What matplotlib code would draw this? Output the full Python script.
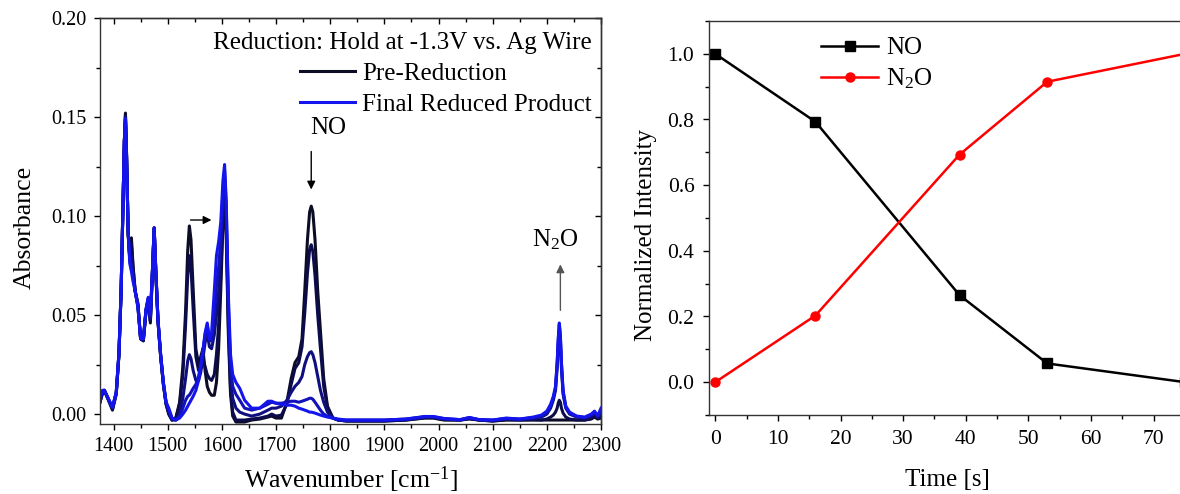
import matplotlib
matplotlib.use("Agg")
import matplotlib.pyplot as plt
from matplotlib.ticker import MultipleLocator, FormatStrFormatter

plt.rcParams['font.family'] = ['Liberation Serif', 'DejaVu Serif']
plt.rcParams['mathtext.fontset'] = 'custom'
plt.rcParams['mathtext.rm'] = 'Liberation Serif'
plt.rcParams['mathtext.it'] = 'Liberation Serif:italic'

# ---- left panel: IR spectra during reduction ----
wavenumber = [
    1375, 1380, 1383, 1390, 1398, 1405, 1410, 1414, 1418, 1420, 1422, 1424, 1427, 1430, 1433,
    1436, 1440, 1445, 1450, 1455, 1460, 1464, 1468, 1472, 1475, 1478, 1482, 1487, 1492, 1497,
    1502, 1508, 1515, 1522, 1528, 1533, 1537, 1540, 1543, 1547, 1552, 1557, 1561, 1565, 1569,
    1573, 1577, 1581, 1586, 1590, 1594, 1598, 1602, 1605, 1608, 1612, 1616, 1620, 1626, 1633,
    1642, 1655, 1670, 1685, 1692, 1700, 1710, 1720, 1728, 1735, 1742, 1748, 1753, 1758, 1762,
    1765, 1768, 1772, 1777, 1782, 1788, 1795, 1805, 1815,
    1830, 1860, 1900, 1940, 1975, 1990, 2010, 2040, 2057, 2075, 2100, 2125, 2150, 2175,
    2190, 2200, 2207, 2212, 2216, 2219, 2221, 2223, 2225, 2227, 2230, 2235, 2242, 2255, 2270,
    2282, 2288, 2294, 2300]

spec0 = [  # pre-reduction
    0.006, 0.011, 0.012, 0.0075, 0.002, 0.010, 0.030, 0.062, 0.112, 0.138, 0.152, 0.132, 0.090, 0.080, 0.089,
    0.075, 0.062, 0.056, 0.038, 0.037, 0.052, 0.057, 0.046, 0.072, 0.094, 0.072, 0.047, 0.029, 0.015, 0.005,
    0.0, -0.003, -0.002, 0.006, 0.024, 0.052, 0.083, 0.095, 0.088, 0.063, 0.033, 0.025, 0.029, 0.033, 0.022,
    0.014, 0.011, 0.0095, 0.0095, 0.016, 0.033, 0.063, 0.096, 0.110, 0.090, 0.040, 0.010, -0.001, -0.004, -0.004,
    -0.004, -0.003, -0.0025, -0.0015, -0.001, -0.002, -0.002, 0.006, 0.018, 0.026, 0.029, 0.038, 0.062, 0.088, 0.102,
    0.105, 0.102, 0.088, 0.062, 0.042, 0.018, 0.004, -0.002, -0.003,
    -0.0035, -0.0035, -0.0035, -0.003, -0.002, -0.002, -0.003, -0.003, -0.0025, -0.003, -0.0035, -0.003, -0.003, -0.003,
    -0.003, -0.003, -0.003, -0.003, -0.003, -0.003, -0.003, -0.003, -0.003, -0.003, -0.003, -0.003, -0.003, -0.003, -0.003,
    -0.0025, -0.0015, -0.0025, -0.002]

spec1 = [
    0.006, 0.011, 0.012, 0.0075, 0.0025, 0.0105, 0.030, 0.062, 0.112, 0.138, 0.151, 0.131, 0.091, 0.079, 0.086,
    0.074, 0.062, 0.055, 0.038, 0.037, 0.052, 0.057, 0.047, 0.073, 0.094, 0.072, 0.047, 0.029, 0.015, 0.005,
    0.0, -0.003, -0.002, 0.005, 0.020, 0.045, 0.070, 0.080, 0.074, 0.053, 0.029, 0.022, 0.025, 0.028, 0.024,
    0.020, 0.018, 0.017, 0.020, 0.030, 0.045, 0.070, 0.100, 0.113, 0.095, 0.045, 0.013, 0.001, -0.003, -0.003,
    -0.003, -0.0025, -0.002, -0.001, 0.0, -0.001, -0.0005, 0.005, 0.015, 0.023, 0.026, 0.034, 0.051, 0.071, 0.083,
    0.0855, 0.082, 0.070, 0.050, 0.033, 0.014, 0.003, -0.002, -0.003,
    -0.0035, -0.0035, -0.0035, -0.003, -0.0018, -0.0018, -0.0028, -0.003, -0.0022, -0.003, -0.0035, -0.0028, -0.003, -0.0028,
    -0.003, -0.0025, -0.0015, -0.0005, 0.001, 0.003, 0.0055, 0.007, 0.006, 0.003, 0.0005, -0.0015, -0.0025, -0.003, -0.003,
    -0.0022, -0.0012, -0.0022, -0.001]

spec2 = [
    0.0065, 0.0115, 0.012, 0.0078, 0.003, 0.0108, 0.0305, 0.0625, 0.1125, 0.138, 0.150, 0.131, 0.092, 0.078, 0.080,
    0.071, 0.062, 0.055, 0.038, 0.0375, 0.0525, 0.058, 0.048, 0.0735, 0.094, 0.0725, 0.0475, 0.0295, 0.0155, 0.0055,
    0.001, -0.003, -0.003, 0.0, 0.008, 0.018, 0.027, 0.030, 0.028, 0.022, 0.017, 0.017, 0.021, 0.028, 0.036,
    0.041, 0.034, 0.033, 0.040, 0.050, 0.062, 0.080, 0.108, 0.119, 0.100, 0.050, 0.020, 0.008, 0.003, 0.001,
    0.0, -0.001, 0.0, 0.002, 0.003, 0.003, 0.004, 0.007, 0.011, 0.014, 0.016, 0.019, 0.025, 0.029, 0.031,
    0.0315, 0.030, 0.026, 0.019, 0.012, 0.006, 0.001, -0.002, -0.003,
    -0.0033, -0.0033, -0.0033, -0.0028, -0.0015, -0.0015, -0.0025, -0.003, -0.002, -0.003, -0.0033, -0.0025, -0.0028, -0.0022,
    -0.0015, 0.0, 0.003, 0.007, 0.012, 0.023, 0.034, 0.042, 0.036, 0.023, 0.010, 0.003, 0.0, -0.0015, -0.002,
    -0.001, 0.0005, -0.0015, 0.001]

spec3 = [
    0.007, 0.012, 0.012, 0.008, 0.0033, 0.011, 0.031, 0.063, 0.113, 0.138, 0.149, 0.130, 0.092, 0.077, 0.075,
    0.069, 0.062, 0.054, 0.038, 0.038, 0.053, 0.0585, 0.049, 0.074, 0.094, 0.073, 0.048, 0.030, 0.016, 0.006,
    0.002, -0.002, -0.003, -0.001, 0.003, 0.007, 0.009, 0.0096, 0.011, 0.013, 0.015, 0.019, 0.025, 0.032, 0.040,
    0.045, 0.037, 0.037, 0.050, 0.065, 0.074, 0.088, 0.113, 0.123, 0.105, 0.055, 0.025, 0.014, 0.010, 0.007,
    0.003, 0.002, 0.003, 0.005, 0.006, 0.0055, 0.0055, 0.006, 0.0065, 0.0065, 0.006, 0.0065, 0.007, 0.0075, 0.008,
    0.008, 0.0075, 0.006, 0.004, 0.002, 0.0, -0.001, -0.002, -0.003,
    -0.003, -0.003, -0.003, -0.0025, -0.0013, -0.0013, -0.0023, -0.0028, -0.0018, -0.0028, -0.003, -0.0022, -0.0025, -0.0018,
    -0.001, 0.001, 0.004, 0.008, 0.013, 0.025, 0.037, 0.045, 0.039, 0.025, 0.011, 0.0035, 0.0005, -0.0012, -0.0018,
    -0.0005, 0.001, -0.001, 0.002]

spec4 = [  # final reduced product
    0.007, 0.012, 0.012, 0.008, 0.0035, 0.011, 0.031, 0.063, 0.113, 0.138, 0.149, 0.130, 0.093, 0.076, 0.072,
    0.067, 0.062, 0.054, 0.038, 0.038, 0.053, 0.059, 0.050, 0.074, 0.094, 0.073, 0.048, 0.030, 0.016, 0.006,
    0.003, -0.002, -0.003, -0.002, 0.0, 0.002, 0.004, 0.0055, 0.007, 0.009, 0.012, 0.017, 0.024, 0.032, 0.041,
    0.046, 0.038, 0.041, 0.062, 0.080, 0.087, 0.097, 0.118, 0.126, 0.108, 0.060, 0.030, 0.020, 0.016, 0.013,
    0.007, 0.003, 0.003, 0.0065, 0.0065, 0.0055, 0.005, 0.0045, 0.0045, 0.004, 0.003, 0.0025, 0.002, 0.0015, 0.001,
    0.001, 0.0008, 0.0005, 0.0, -0.0005, -0.001, -0.0015, -0.002, -0.0025,
    -0.003, -0.003, -0.003, -0.0025, -0.0012, -0.0012, -0.0022, -0.0028, -0.0017, -0.0028, -0.003, -0.002, -0.0025, -0.0015,
    -0.0005, 0.0015, 0.005, 0.009, 0.014, 0.026, 0.038, 0.046, 0.040, 0.026, 0.012, 0.004, 0.001, -0.001, -0.0015,
    0.0, 0.0015, -0.0008, 0.003]

spectra = [spec0, spec1, spec2, spec3, spec4]
spec_colors = ['#0c0c24', '#0c0c4c', '#0f0f80', '#1212b8', '#1414ec']
spec_labels = ['Pre-Reduction', None, None, None, 'Final Reduced Product']

# ---- right panel: normalized band intensities ----
time_s = [0, 16, 39, 53, 75]
no_int = [1.0, 0.793, 0.265, 0.057, 0.0]
n2o_int = [0.0, 0.203, 0.693, 0.915, 1.0]

W, H = 1180, 494
fig = plt.figure(figsize=(W / 100, H / 100), dpi=100)

ax = fig.add_axes([100 / W, (H - 424) / H, 501 / W, 406 / H])
for s, c, lab in zip(spectra, spec_colors, spec_labels):
    ax.plot(wavenumber, s, color=c, lw=2.2, label=lab, solid_joinstyle='round')

ax.set_xlim(1375, 2300)
ax.set_ylim(-0.005, 0.2)
ax.xaxis.set_major_locator(MultipleLocator(100))
ax.xaxis.set_minor_locator(MultipleLocator(50))
ax.yaxis.set_major_locator(MultipleLocator(0.05))
ax.yaxis.set_minor_locator(MultipleLocator(0.025))
ax.yaxis.set_major_formatter(FormatStrFormatter('%.2f'))
ax.tick_params(which='both', direction='out', labelsize=14.5, pad=5)
ax.tick_params(which='major', length=4.5, width=1)
ax.tick_params(which='minor', length=3, width=1)
# mirrored ticks pointing inwards on top and right
top = ax.secondary_xaxis('top')
top.xaxis.set_major_locator(MultipleLocator(100))
top.xaxis.set_minor_locator(MultipleLocator(50))
top.tick_params(which='both', direction='in', labeltop=False)
top.tick_params(which='major', length=4.5, width=1)
top.tick_params(which='minor', length=3, width=1)
right = ax.secondary_yaxis('right')
right.yaxis.set_major_locator(MultipleLocator(0.05))
right.yaxis.set_minor_locator(MultipleLocator(0.025))
right.tick_params(which='both', direction='in', labelright=False)
right.tick_params(which='major', length=4.5, width=1)
right.tick_params(which='minor', length=3, width=1)
for sp in list(ax.spines.values()) + [top.spines['top'], right.spines['right']]:
    sp.set_linewidth(1.0)
    sp.set_color('#333333')

ax.set_xlabel('Wavenumber [cm$^{-1}$]', fontsize=18.5, labelpad=6)
ax.set_ylabel('Absorbance', fontsize=18.5)
ax.yaxis.set_label_coords(-0.128, 0.483)

leg = ax.legend(loc='upper right', bbox_to_anchor=(0.982, 0.966), frameon=False,
                title='Reduction: Hold at -1.3V vs. Ag Wire', alignment='right',
                fontsize=18, title_fontsize=18, borderpad=0, borderaxespad=0,
                handlelength=2.2, handletextpad=0.3, labelspacing=0.34)

ax.annotate('', xy=(1765, 0.112), xytext=(1765, 0.134),
            arrowprops=dict(arrowstyle='-|>', color='black', lw=1, mutation_scale=12))
ax.text(1763, 0.1445, 'NO', fontsize=18, ha='left', va='center')
ax.annotate('', xy=(1586, 0.098), xytext=(1537, 0.098),
            arrowprops=dict(arrowstyle='-|>', color='black', lw=1, mutation_scale=12))
ax.annotate('', xy=(2225, 0.077), xytext=(2225, 0.051),
            arrowprops=dict(arrowstyle='-|>', color='#555555', lw=1, mutation_scale=12))
ax.text(2216, 0.088, 'N$_2$O', fontsize=18, ha='center', va='center')

# right panel, running off the right edge as in the original
ax2 = fig.add_axes([709 / W, (H - 415) / H, 476 / W, 394 / H])
ax2.plot(time_s, no_int, color='black', lw=1.8, marker='s', ms=6.5, label='NO')
ax2.plot(time_s, n2o_int, color='#ff0000', lw=1.8, marker='o', ms=6.5, label='N$_2$O')
ax2.set_xlim(-1, 75)
ax2.set_ylim(-0.1, 1.1)
ax2.xaxis.set_major_locator(MultipleLocator(10))
ax2.xaxis.set_minor_locator(MultipleLocator(5))
ax2.yaxis.set_major_locator(MultipleLocator(0.2))
ax2.yaxis.set_minor_locator(MultipleLocator(0.1))
ax2.yaxis.set_major_formatter(FormatStrFormatter('%.1f'))
ax2.tick_params(which='both', direction='out', labelsize=15.5, pad=6)
ax2.tick_params(which='major', length=4.5, width=1)
ax2.tick_params(which='minor', length=3, width=1)
for sp in ax2.spines.values():
    sp.set_linewidth(1.0)
    sp.set_color('#333333')
ax2.set_xlabel('Time [s]', fontsize=18, labelpad=15)
ax2.set_ylabel('Normalized Intensity', fontsize=18)
ax2.yaxis.set_label_coords(-0.11, 0.457)
ax2.legend(loc='upper left', bbox_to_anchor=(0.235, 0.96), frameon=False,
           fontsize=18, borderpad=0, borderaxespad=0, handlelength=2.3,
           handletextpad=0.3, labelspacing=0.3)

fig.savefig('out.png', dpi=100)
